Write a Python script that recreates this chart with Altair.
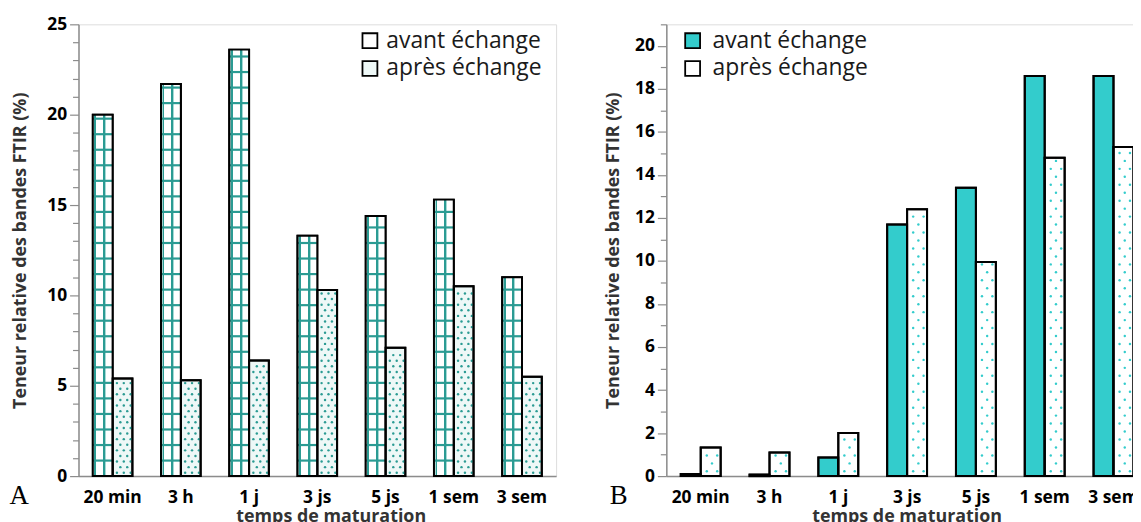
import altair as alt
import pandas as pd

categories = ["20 min", "3 h", "1 j", "3 js", "5 js", "1 sem", "3 sem"]
series = ["avant échange", "après échange"]

a_avant = [20.0, 21.7, 23.6, 13.3, 14.4, 15.3, 11.0]
a_apres = [5.4, 5.3, 6.4, 10.3, 7.1, 10.5, 5.5]
b_avant = [0.1, 0.07, 0.87, 11.7, 13.4, 18.6, 18.6]
b_apres = [1.33, 1.1, 2.0, 12.4, 9.95, 14.8, 15.3]

a_ticks = list(range(0, 26))
b_ticks = list(range(0, 22))

TEAL = "#2b9b93"
TEAL_LIGHT = "#a6d9d5"
CYAN = "#33cccc"
FONT = "Open Sans"
SLOTS = [f"s{i:02d}" for i in range(24)]


def long_df(avant, apres):
    rows = []
    for c, v1, v2 in zip(categories, avant, apres):
        rows.append({"temps": c, "serie": series[0], "valeur": v1})
        rows.append({"temps": c, "serie": series[1], "valeur": v2})
    return pd.DataFrame(rows)


def line_rows(avant, spacing):
    rows = []
    for c, v in zip(categories, avant):
        k = 1
        while k * spacing < v - 0.15:
            rows.append({"temps": c, "serie": series[0], "valeur": k * spacing})
            k += 1
    return pd.DataFrame(rows)


def dot_rows(apres, dy, even, odd):
    rows = []
    for c, v in zip(categories, apres):
        r = 0
        while (r + 0.6) * dy < v - 0.1:
            for s in (even if r % 2 == 0 else odd):
                rows.append({"temps": c, "slot": SLOTS[s], "valeur": (r + 0.6) * dy})
            r += 1
    return pd.DataFrame(rows)


def panel(avant, apres, ymax, ticks, label_every, width, legend_colors, legend_x,
          legend_y, label_offset, dot_color, dot_dy, even, odd, grid, xtitle_x,
          ytitle_pad, letter, letter_dx):
    df = long_df(avant, apres)
    xscale = alt.Scale(paddingInner=0.42, paddingOuter=0.21)
    yscale = alt.Scale(domain=[0, ymax], nice=False, zero=True)
    xaxis = alt.Axis(title="temps de maturation", labelAngle=0, ticks=False,
                     labelFont=FONT, labelFontWeight="bold", labelFontSize=17.5,
                     labelColor="black", labelPadding=13,
                     titleFont=FONT, titleFontWeight="bold", titleFontSize=18,
                     titleColor="#333333", titlePadding=1, titleX=xtitle_x,
                     domainColor="#8c8c8c", domainWidth=1.5)
    top = ymax - ymax % label_every
    yaxis = alt.Axis(title="Teneur relative des bandes FTIR  (%)", values=ticks,
                     labelExpr=f"datum.value % {label_every} === 0 && datum.value <= {top} ? datum.label : ''",
                     tickSize={"condition": {"test": f"datum.value % {label_every} === 0", "value": 9}, "value": 6},
                     tickColor="#8c8c8c", tickWidth=1.2, domainColor="#8c8c8c",
                     domainWidth=1.5, grid=False,
                     labelFont=FONT, labelFontWeight="bold", labelFontSize=17.5,
                     labelColor="black", labelPadding=3,
                     titleFont=FONT, titleFontWeight="bold", titleFontSize=18,
                     titleColor="#333333", titlePadding=ytitle_pad)
    x = alt.X("temps:N", sort=categories, scale=xscale, axis=xaxis)
    y = alt.Y("valeur:Q", scale=yscale, axis=yaxis)
    xo = alt.XOffset("serie:N", sort=series,
                     scale=alt.Scale(domain=series, paddingInner=0, paddingOuter=0))

    base = alt.Chart(df).mark_bar(stroke="black", strokeWidth=2).encode(
        x=x, y=y, xOffset=xo,
        fill=alt.Fill("serie:N", sort=series,
                      scale=alt.Scale(domain=series, range=legend_colors),
                      legend=alt.Legend(title=None, orient="none", legendX=legend_x,
                                        legendY=legend_y, direction="vertical",
                                        symbolType="square", symbolSize=225,
                                        symbolStrokeColor="black", symbolStrokeWidth=1.8,
                                        labelFont=FONT, labelFontSize=23,
                                        labelColor="#1a1a1a", labelOffset=label_offset,
                                        rowPadding=4)))
    layers = [base]
    if grid:
        grad = alt.LinearGradient(
            gradient="linear", x1=0, x2=1, y1=0, y2=0,
            stops=[alt.GradientStop(color="white", offset=0),
                   alt.GradientStop(color="white", offset=0.04),
                   alt.GradientStop(color=TEAL_LIGHT, offset=0.04),
                   alt.GradientStop(color=TEAL_LIGHT, offset=0.08),
                   alt.GradientStop(color=TEAL, offset=0.08),
                   alt.GradientStop(color=TEAL, offset=0.17),
                   alt.GradientStop(color="white", offset=0.17),
                   alt.GradientStop(color="white", offset=0.52),
                   alt.GradientStop(color=TEAL, offset=0.52),
                   alt.GradientStop(color=TEAL, offset=0.62),
                   alt.GradientStop(color=TEAL_LIGHT, offset=0.62),
                   alt.GradientStop(color=TEAL_LIGHT, offset=0.67),
                   alt.GradientStop(color="white", offset=0.67),
                   alt.GradientStop(color="white", offset=1)])
        gl = alt.Chart(df).transform_filter(
            alt.datum.serie == series[0]).mark_bar(fill=grad).encode(
            x=x, y=y, xOffset=xo)
        lines = alt.Chart(line_rows(avant, 0.86)).mark_tick(
            orient="horizontal", size=19, thickness=2.2, color=TEAL, opacity=1).encode(
            x=x, y=y, xOffset=xo)
        layers += [gl, lines]
    dots = alt.Chart(dot_rows(apres, dot_dy, even, odd)).mark_circle(
        size=6, color=dot_color, opacity=1).encode(
        x=x, y=y,
        xOffset=alt.XOffset("slot:N", sort=SLOTS,
                            scale=alt.Scale(domain=SLOTS, paddingInner=0, paddingOuter=0)))
    outline = alt.Chart(df).mark_bar(fillOpacity=0, stroke="black", strokeWidth=2).encode(
        x=x, y=y, xOffset=xo)
    layers += [dots, outline]
    return alt.layer(*layers).resolve_scale(xOffset="independent").properties(
        width=width, height=455,
        title=alt.TitleParams(letter, orient="bottom", anchor="start",
                              font="Liberation Serif", fontSize=27, fontWeight="normal",
                              color="black", dx=letter_dx, dy=-42, offset=0))


chart_a = panel(a_avant, a_apres, 25, a_ticks, 5, 481, ["#ffffff", "#eef8f7"], 282, 5, 5,
                TEAL, 0.31, [14, 18, 22], [16, 20], True, 254, 17, "A", -2.5)
chart_b = panel(b_avant, b_apres, 21, b_ticks, 2, 485, [CYAN, "#ffffff"], 15, 5, 8.5,
                CYAN, 0.37, [15, 21], [18], False, 242, 12, "B", 5)

chart = alt.hconcat(chart_a, chart_b, spacing=47).resolve_scale(
    x="independent", y="independent", fill="independent", xOffset="independent"
).properties(
    autosize=alt.AutoSizeParams(type="none")
).configure_view(stroke="#9a9a9a", strokeWidth=1.5).configure(
    padding={"left": 71, "top": 13, "right": 1062, "bottom": 501})

chart.save("out.html", embed_options={"renderer": "svg", "actions": False})
